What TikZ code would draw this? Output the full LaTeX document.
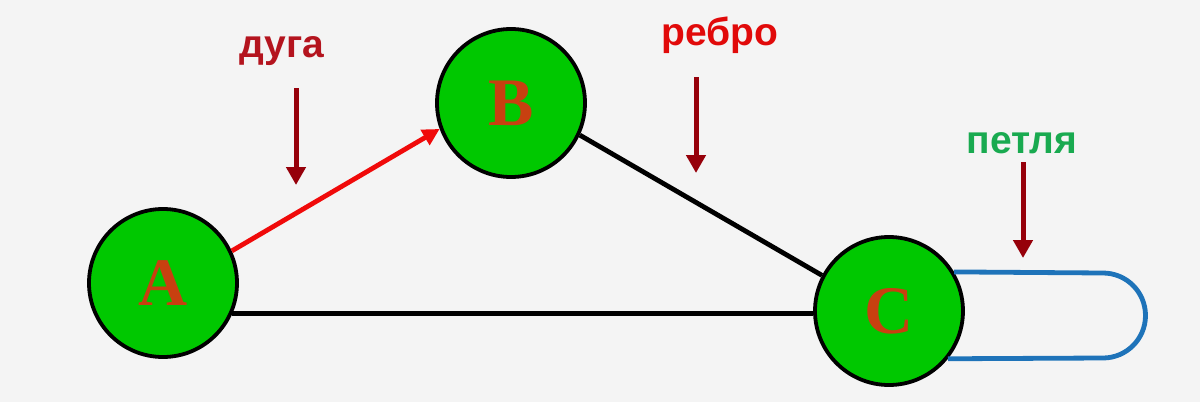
\documentclass[tikz,border=0pt]{standalone}
\usepackage{fontspec}
\setmainfont{Liberation Serif}
\newfontfamily\labfont{Liberation Sans}
\usetikzlibrary{arrows.meta}
\definecolor{bgcol}{RGB}{244,244,244}
\definecolor{nodegreen}{RGB}{0,200,0}
\definecolor{lettercol}{RGB}{200,64,16}
\definecolor{pointercol}{RGB}{150,0,10}
\definecolor{arcred}{RGB}{240,10,10}
\definecolor{dugacol}{RGB}{180,20,30}
\definecolor{rebrocol}{RGB}{225,10,10}
\definecolor{petlyacol}{RGB}{25,170,80}
\definecolor{loopblue}{RGB}{30,115,185}
\tikzset{
  vertex/.style={circle, draw=black, line width=1.9pt, fill=nodegreen,
    minimum size=74pt, inner sep=0pt, text=lettercol,
    font=\fontsize{34}{34}\selectfont\bfseries},
  lbl/.style={anchor=base, inner sep=0pt, font=\labfont\fontsize{19.5}{19.5}\selectfont\bfseries},
  pointer/.style={draw=pointercol, line width=2.5pt, -{Triangle[width=9.5pt,length=9pt]}},
  edgeline/.style={draw=black, line width=2.4pt},
  arcline/.style={draw=arcred, line width=2.4pt, -{Triangle[width=8.5pt,length=8.5pt]}},
  loopline/.style={draw=loopblue, line width=2.4pt},
}
\begin{document}
\begin{tikzpicture}[x=0.5pt, y=-0.5pt]
\fill[bgcol] (0,0) rectangle (1200,402);
\useasboundingbox (0,0) rectangle (1200,402);
\node[vertex] (A) at (163,283) {A};
\node[vertex] (B) at (511,103) {B};
\node[vertex] (C) at (889,311) {C};
\draw[edgeline] (A.-24) -- (A.-24 -| C.west);
\draw[edgeline] (B.-25) -- (C.152);
\draw[arcline] (A.25) -- (B.200);
\coordinate (Ltop) at (1103,273);
\draw[loopline] (C.31) -- (Ltop) arc[start angle=90, end angle=-90, radius=21.25pt] -- (C.-39);
\node[lbl, text=dugacol] (duga) at (282,57) {дуга};
\node[lbl, text=rebrocol] (rebro) at (720,45) {ребро};
\node[lbl, text=petlyacol] (petlya) at (1022,153) {петля};
\coordinate (p1s) at (296,88);  \coordinate (p1e) at (296,185);
\coordinate (p2s) at (696,77);  \coordinate (p2e) at (696,173);
\coordinate (p3s) at (1023,162); \coordinate (p3e) at (1023,258);
\draw[pointer] (p1s) -- (p1e);
\draw[pointer] (p2s) -- (p2e);
\draw[pointer] (p3s) -- (p3e);
\end{tikzpicture}
\end{document}
